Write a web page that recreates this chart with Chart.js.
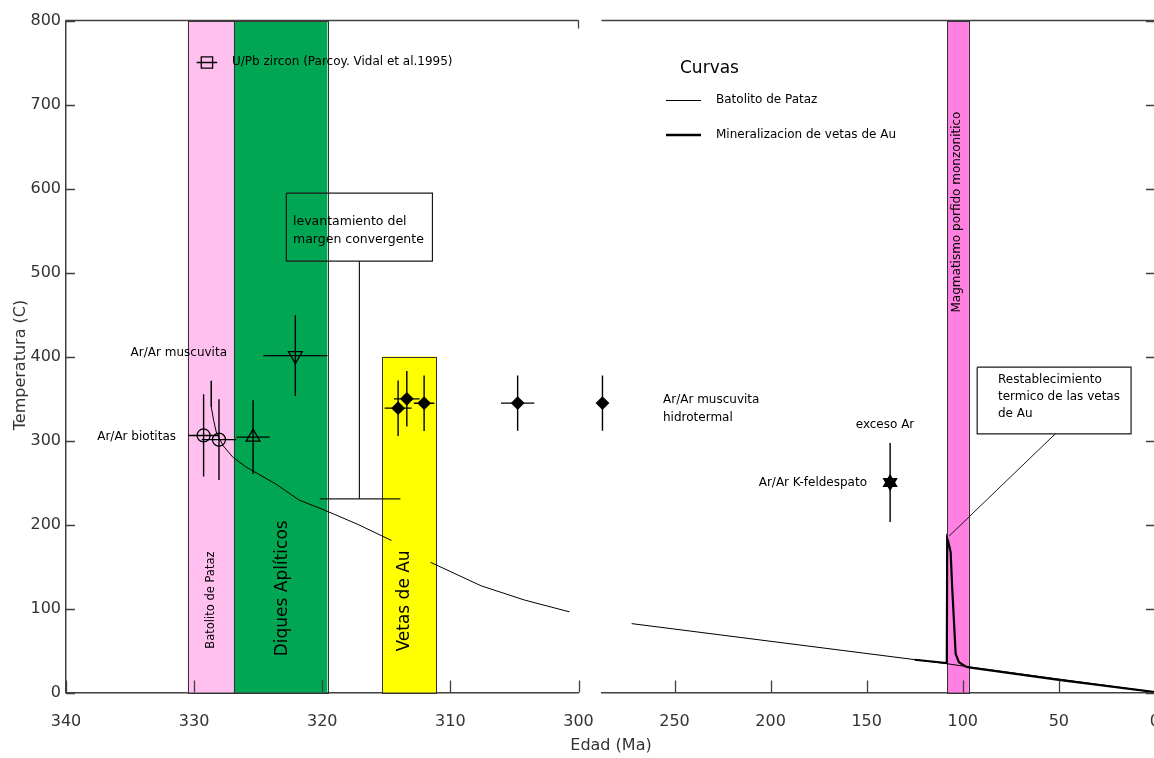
<!DOCTYPE html>
<html>
<head>
<meta charset="utf-8">
<script src="https://cdn.jsdelivr.net/npm/chart.js@4.4.0/dist/chart.umd.min.js"></script>
<style>
html, body { margin: 0; padding: 0; overflow: hidden; background: #fff; width: 1154px; height: 758px; }
canvas { position: absolute; left: 0; top: 0; }
</style>
</head>
<body>
<canvas id="left" width="1154" height="758"></canvas>
<canvas id="right" width="1180" height="758"></canvas>
<script>
// ---- axes ----
var yTicks = [0, 100, 200, 300, 400, 500, 600, 700, 800];
var xTicksLeft = [340, 330, 320, 310, 300];
var xTicksRight = [250, 200, 150, 100, 50, 0];

// ---- time intervals (Ma) ----
var bandNames = ['Batolito de Pataz', 'Diques Aplíticos', 'Vetas de Au', 'Magmatismo porfido monzonitico'];
var bandOld = [330.5, 326.9, 315.3, 108.1];
var bandYoung = [326.9, 319.6, 311.1, 96.8];
var bandTop = [800, 800, 400, 800];

// ---- curves (age Ma, temperature C) ----
var batolitoAge = [328.66, 328.66, 328.48, 328.27, 327.75, 326.97, 325.9, 323.6, 321.8, 319.8, 317.2, 314.6, 313, 311.55, 307.6, 304.2, 300.7,
                   272.3, 109, 97, 0];
var batolitoTemp = [371, 340, 324, 310, 294, 280, 268, 248, 229, 217, 200, 181, null, 155, 127, 110, 96,
                    82, 34.5, 30.5, 0.5];
var vetasAge = [125, 108.3, 108.1, 107.6, 106.3, 105.5, 104.6, 103.7, 102, 98.5, 96.8, 50, 0];
var vetasTemp = [39, 35, 183, 180, 167, 125, 86, 46, 36, 31, 30, 15, 0.5];

// ---- dated samples: age, temperature, errors ----
var zirconAge = [329.0], zirconTemp = [750], zirconAgeErr = [0.8], zirconTempErr = [0];
var biotitaAge = [329.26, 328.06], biotitaTemp = [306, 301], biotitaAgeErr = [1.2, 1.35], biotitaTempErr = [49, 48];
var diqueAge = [325.4], diqueTemp = [304], diqueAgeErr = [1.3], diqueTempErr = [44];
var muscAge = [322.1], muscTemp = [401], muscAgeErr = [2.5], muscTempErr = [48];
var muscHidroAge = [314.08, 313.4, 312.05, 304.75, 287.5];
var muscHidroTemp = [338.5, 349.6, 344.4, 344.5, 344.5];
var muscHidroAgeErr = [1.05, 1.0, 0.8, 1.3, 0];
var muscHidroTempErr = [33, 33, 33, 33, 33];
var kfeldAge = [137.8], kfeldTemp = [250], kfeldAgeErr = [0], kfeldTempErr = [47];

// ---- styles ----
var FONT = '"DejaVu Sans", Verdana, sans-serif';
var AXIS = '#404040';
var bandColors = ['#ffc0f0', '#00a651', '#ffff00', '#ff80e0'];
var bandLabelAge = [328.65, 323.1, 313.6, 103.1];
var bandLabelTemp = [110, 124, 109, 572];
var bandLabelSize = [11.5, 17, 17, 12];
var LEFT_SPLIT = 299;

function pts(ages, temps, lo, hi) {
  var out = [];
  ages.forEach(function (a, i) {
    if (a >= lo && a <= hi) out.push({ x: a, y: temps[i] });
  });
  return out;
}

function errorBars(ages, temps, ageErr, tempErr, lo, hi) {
  var out = [];
  ages.forEach(function (a, i) {
    if (a < lo || a > hi) return;
    if (ageErr[i]) out.push({ x: a - ageErr[i], y: temps[i] }, { x: a + ageErr[i], y: temps[i] }, { x: a, y: null });
    if (tempErr[i]) out.push({ x: a, y: temps[i] - tempErr[i] }, { x: a, y: temps[i] + tempErr[i] }, { x: a, y: null });
  });
  return out;
}

function curve(data, width) {
  return { data: data, showLine: true, borderColor: '#000', borderWidth: width, pointRadius: 0, spanGaps: false, tension: 0 };
}

function marker(data, style, radius, filled, rotation) {
  return { data: data, showLine: false, pointStyle: style, pointRadius: radius, pointRotation: rotation || 0,
           borderColor: '#000', borderWidth: 1.3, backgroundColor: filled ? '#000' : 'rgba(0,0,0,0)', clip: false };
}

function text(ctx, s, x, y, size, align, rotate) {
  ctx.save();
  ctx.font = size + 'px ' + FONT;
  ctx.fillStyle = '#000';
  ctx.textAlign = align || 'left';
  ctx.textBaseline = 'middle';
  ctx.translate(x, y);
  if (rotate) ctx.rotate(-Math.PI / 2);
  ctx.fillText(s, 0, 0);
  ctx.restore();
}

function drawBands(chart, list) {
  var ctx = chart.ctx, xs = chart.scales.x, ys = chart.scales.y;
  list.forEach(function (i) {
    var x0 = xs.getPixelForValue(bandOld[i]), x1 = xs.getPixelForValue(bandYoung[i]);
    var y0 = ys.getPixelForValue(bandTop[i]), y1 = ys.getPixelForValue(0);
    ctx.save();
    ctx.fillStyle = bandColors[i];
    ctx.fillRect(x0, y0, x1 - x0, y1 - y0);
    ctx.strokeStyle = '#333';
    ctx.lineWidth = 1;
    ctx.strokeRect(Math.round(x0) + 0.5, Math.round(y0) + 0.5, Math.round(x1 - x0), Math.round(y1 - y0));
    ctx.restore();
    text(ctx, bandNames[i], xs.getPixelForValue(bandLabelAge[i]), ys.getPixelForValue(bandLabelTemp[i]),
         bandLabelSize[i], 'center', true);
  });
}

function inwardTicks(chart, xTicks, side) {
  var ctx = chart.ctx, a = chart.chartArea, xs = chart.scales.x, ys = chart.scales.y;
  ctx.save();
  ctx.strokeStyle = AXIS;
  ctx.lineWidth = 1.3;
  ctx.beginPath();
  xTicks.forEach(function (v) {
    var px = Math.round(xs.getPixelForValue(v)) + 0.5;
    ctx.moveTo(px, a.bottom); ctx.lineTo(px, a.bottom - 12);
  });
  yTicks.forEach(function (v) {
    var py = Math.round(ys.getPixelForValue(v)) + 0.5;
    if (side === 'left') { ctx.moveTo(a.left, py); ctx.lineTo(a.left + 9, py); }
    else { ctx.moveTo(a.right, py); ctx.lineTo(a.right - 9, py); }
  });
  // top frame
  ctx.moveTo(a.left, a.top); ctx.lineTo(a.right, a.top);
  if (side === 'left') { ctx.moveTo(a.right, a.top); ctx.lineTo(a.right, a.top + 8); }
  else { ctx.moveTo(a.right, a.top); ctx.lineTo(a.right, a.bottom); }
  ctx.stroke();
  ctx.restore();
}

function line(ctx, xs, ys, path, width) {
  ctx.save();
  ctx.strokeStyle = '#1a1a1a';
  ctx.lineWidth = width || 1;
  ctx.beginPath();
  path.forEach(function (p, i) {
    var px = xs.getPixelForValue(p[0]), py = ys.getPixelForValue(p[1]);
    if (i === 0) ctx.moveTo(px, py); else ctx.lineTo(px, py);
  });
  ctx.stroke();
  ctx.restore();
}

var leftDecor = {
  id: 'leftDecor',
  beforeDatasetsDraw: function (chart) { drawBands(chart, [0, 1, 2]); },
  afterDatasetsDraw: function (chart) {
    var ctx = chart.ctx, xs = chart.scales.x, ys = chart.scales.y;
    inwardTicks(chart, xTicksLeft, 'left');
    // uplift box + leader
    line(ctx, xs, ys, [[322.8, 594.4], [311.4, 594.4], [311.4, 513.5], [322.8, 513.5], [322.8, 594.4]], 1.2);
    line(ctx, xs, ys, [[317.1, 513.5], [317.1, 230.6]], 1.2);
    line(ctx, xs, ys, [[320.2, 230.6], [313.9, 230.6]], 1.2);
    text(ctx, 'levantamiento del', 293, 222, 12.5);
    text(ctx, 'margen convergente', 293, 240, 12.5);
    text(ctx, 'U/Pb zircon (Parcoy. Vidal et al.1995)', 232, 62, 12);
    text(ctx, 'Ar/Ar muscuvita', 227, 353, 12, 'right');
    text(ctx, 'Ar/Ar biotitas', 176, 437, 12, 'right');
    // axis titles
    ctx.save();
    ctx.fillStyle = '#333';
    ctx.font = '16px ' + FONT;
    ctx.textAlign = 'center';
    ctx.textBaseline = 'middle';
    ctx.fillText('Edad (Ma)', 611, 746);
    ctx.translate(21, 365);
    ctx.rotate(-Math.PI / 2);
    ctx.fillText('Temperatura (C)', 0, 0);
    ctx.restore();
  }
};

var rightDecor = {
  id: 'rightDecor',
  beforeDatasetsDraw: function (chart) { drawBands(chart, [3]); },
  afterDatasetsDraw: function (chart) {
    var ctx = chart.ctx, xs = chart.scales.x, ys = chart.scales.y;
    inwardTicks(chart, xTicksRight, 'right');
    // thermal reset box + leader
    line(ctx, xs, ys, [[92.5, 387.3], [12.4, 387.3], [12.4, 308], [92.5, 308], [92.5, 387.3]], 1.2);
    line(ctx, xs, ys, [[51.8, 308], [107.2, 186]], 1);
    text(ctx, 'Restablecimiento', 998, 380, 12);
    text(ctx, 'termico de las vetas', 998, 397, 12);
    text(ctx, 'de Au', 998, 414, 12);
    text(ctx, 'Ar/Ar muscuvita', 663, 400, 12);
    text(ctx, 'hidrotermal', 663, 418, 12);
    text(ctx, 'exceso Ar', 885, 425, 12, 'center');
    text(ctx, 'Ar/Ar K-feldespato', 867, 483, 12, 'right');
    // curve legend
    text(ctx, 'Curvas', 680, 69, 17);
    ctx.save();
    ctx.strokeStyle = '#000';
    ctx.beginPath(); ctx.lineWidth = 1; ctx.moveTo(666, 100.5); ctx.lineTo(701, 100.5); ctx.stroke();
    ctx.beginPath(); ctx.lineWidth = 2.5; ctx.moveTo(666, 135); ctx.lineTo(701, 135); ctx.stroke();
    ctx.restore();
    text(ctx, 'Batolito de Pataz', 716, 100, 12);
    text(ctx, 'Mineralizacion de vetas de Au', 716, 135, 12);
  }
};

function xScale(min, max, ticks) {
  return {
    type: 'linear', reverse: true, min: min, max: max,
    afterFit: function (s) { s.height = 65.5; },
    afterBuildTicks: function (s) { s.ticks = ticks.map(function (v) { return { value: v }; }); },
    grid: { display: false, drawTicks: false },
    border: { display: true, color: AXIS, width: 1.5 },
    ticks: { font: { family: FONT, size: 16 }, color: '#333', padding: 20, maxRotation: 0, autoSkip: false }
  };
}

function yScale(show) {
  return {
    type: 'linear', min: 0, max: 800, display: show,
    afterFit: function (s) { s.width = show ? 66 : 0; },
    afterBuildTicks: function (s) { s.ticks = yTicks.map(function (v) { return { value: v }; }); },
    grid: { display: false, drawTicks: false },
    border: { display: true, color: AXIS, width: 1.5 },
    ticks: { font: { family: FONT, size: 16 }, color: '#333', padding: 5 }
  };
}

var common = {
  responsive: false, animation: false, events: [],
  plugins: { legend: { display: false }, tooltip: { enabled: false } }
};

var L0 = LEFT_SPLIT, L1 = 400, R0 = -1, R1 = LEFT_SPLIT;

new Chart(document.getElementById('left'), {
  type: 'scatter',
  data: {
    datasets: [
      curve(pts(batolitoAge, batolitoTemp, L0, L1), 1),
      curve(errorBars(zirconAge, zirconTemp, zirconAgeErr, zirconTempErr, L0, L1)
        .concat(errorBars(biotitaAge, biotitaTemp, biotitaAgeErr, biotitaTempErr, L0, L1))
        .concat(errorBars(diqueAge, diqueTemp, diqueAgeErr, diqueTempErr, L0, L1))
        .concat(errorBars(muscAge, muscTemp, muscAgeErr, muscTempErr, L0, L1))
        .concat(errorBars(muscHidroAge, muscHidroTemp, muscHidroAgeErr, muscHidroTempErr, L0, L1)), 1.4),
      marker(pts(zirconAge, zirconTemp, L0, L1), 'rect', 8, false),
      marker(pts(biotitaAge, biotitaTemp, L0, L1), 'circle', 6.5, false),
      marker(pts(diqueAge, diqueTemp, L0, L1), 'triangle', 8, false),
      marker(pts(muscAge, muscTemp, L0, L1), 'triangle', 8, false, 180),
      marker(pts(muscHidroAge, muscHidroTemp, L0, L1), 'rectRot', 6, true)
    ]
  },
  options: Object.assign({}, common, {
    layout: { padding: { left: 0, top: 20.5, right: 575.5, bottom: 0 } },
    scales: { x: xScale(300, 340, xTicksLeft), y: yScale(true) }
  }),
  plugins: [leftDecor]
});

new Chart(document.getElementById('right'), {
  type: 'scatter',
  data: {
    datasets: [
      curve(pts(batolitoAge, batolitoTemp, R0, R1), 1),
      curve(pts(vetasAge, vetasTemp, R0, R1), 2.2),
      Object.assign(curve(errorBars(muscHidroAge, muscHidroTemp, muscHidroAgeErr, muscHidroTempErr, R0, R1)
        .concat(errorBars(kfeldAge, kfeldTemp, kfeldAgeErr, kfeldTempErr, R0, R1)), 1.4), { clip: false }),
      marker(pts(muscHidroAge, muscHidroTemp, R0, R1), 'rectRot', 6, true),
      marker(pts(kfeldAge, kfeldTemp, R0, R1), 'triangle', 7.5, true),
      marker(pts(kfeldAge, kfeldTemp, R0, R1), 'triangle', 7.5, true, 180)
    ]
  },
  options: Object.assign({}, common, {
    layout: { padding: { left: 601.5, top: 20.5, right: 23.5, bottom: 0 } },
    scales: { x: xScale(0, 288, xTicksRight), y: yScale(false) }
  }),
  plugins: [rightDecor]
});
</script>
</body>
</html>
